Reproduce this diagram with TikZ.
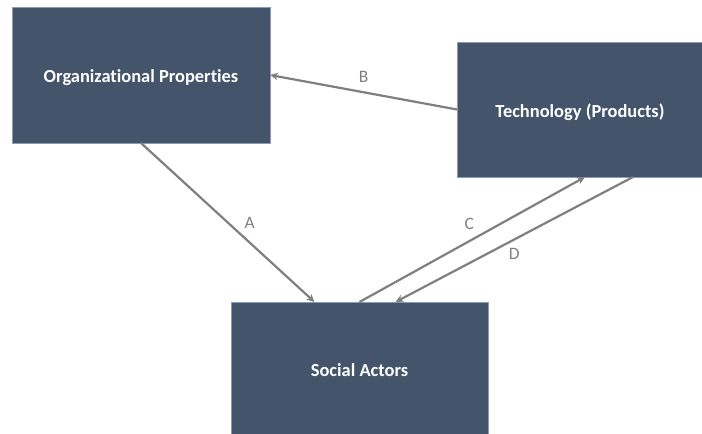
\documentclass[tikz,border=0pt]{standalone}
\usepackage{fontspec}
\setmainfont{Carlito}[Ligatures={NoCommon}]
\usepackage{tikz}
\usetikzlibrary{arrows.meta,calc,positioning,shapes}
\definecolor{box_blue}{HTML}{44546A}
\definecolor{box_edge}{HTML}{8C9BB0}
\definecolor{link_grey}{HTML}{7F7F7F}
\tikzset{
  factor/.style = {rectangle, fill=box_blue, draw=box_edge, line width=0.4bp,
  inner sep=0pt, outer sep=0pt, text=white, align=center, text height=18bp, text depth=2bp,
  font=\fontsize{18.5}{22}\selectfont\bfseries},
  link/.style = {draw=link_grey, line width=2.2bp},
  linklabel/.style = {text=link_grey, font=\fontsize{17.5}{21}\selectfont, inner sep=0pt}
}

\begin{document}
\begin{tikzpicture}[x=1bp,y=-1bp,->,>={Stealth[length=8bp,width=7.5bp]}]
  \useasboundingbox (0,0) rectangle (702,434);
  % the three factors
  \node [factor, minimum width=258bp, minimum height=136bp] (org) at (141,75) {Organizational Properties};
  \node [factor, minimum width=246bp, minimum height=135bp] (tech) at (580,109.5) {Technology (Products)};
  \node [factor, minimum width=257bp, minimum height=132bp] (actors) at (359.5,368) {Social Actors};
  % influences
  \draw [link] (org.south) -- ([xshift=-45bp]actors.north)
    node [linklabel, midway, xshift=22bp] (labA) {A};
  \draw [link] (tech.west) -- (org.east)
    node [linklabel, midway, yshift=15bp] (labB) {B};
  \draw [link] (actors.north) -- ([xshift=5bp]tech.south)
    node [linklabel, midway, xshift=-3bp, yshift=16bp] (labC) {C};
  \draw [link] ([xshift=53bp]tech.south) -- ([xshift=36bp]actors.north)
    node [linklabel, midway, yshift=-14bp] (labD) {D};
\end{tikzpicture}
\end{document}
